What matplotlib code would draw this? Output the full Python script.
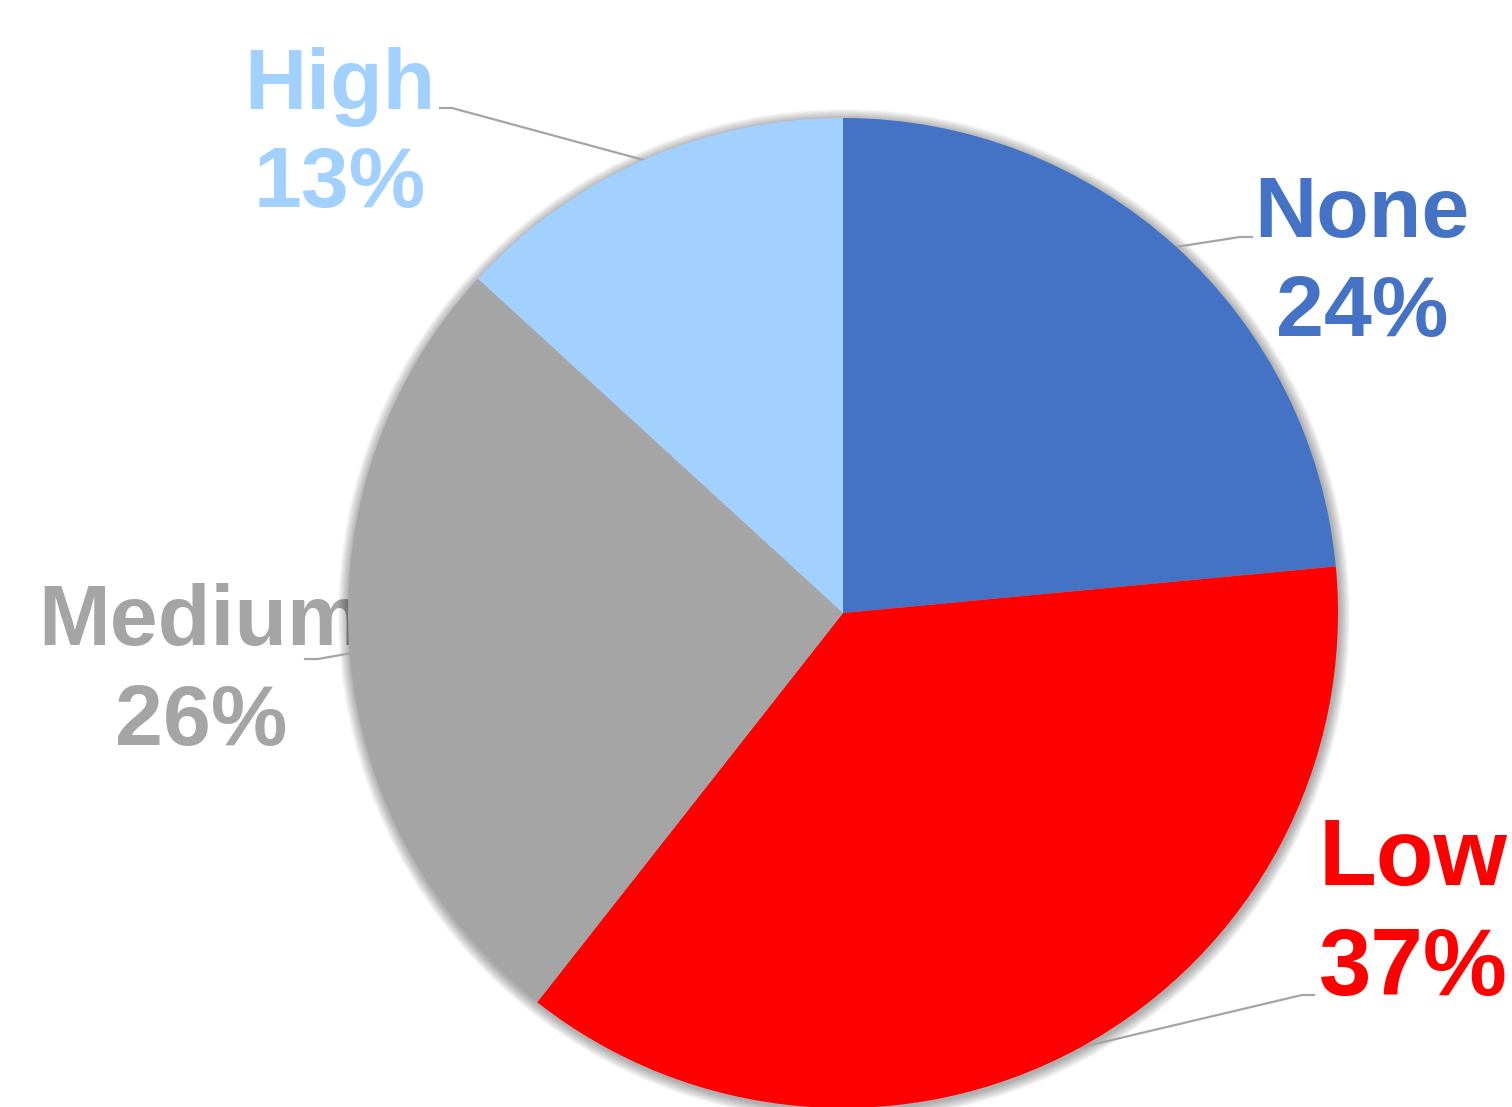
import numpy as np
import matplotlib
matplotlib.use('Agg')
import matplotlib.pyplot as plt
from matplotlib.patches import Circle

labels = ['None', 'Low', 'Medium', 'High']
values = [23.5, 37.1, 26.2, 13.2]
colors = ['#4472C4', '#FF0000', '#A5A5A5', '#A3D1FF']

W, H = 1512, 1107
# label anchor (x centre, baseline of first line) in pixels from top-left, font size, line gap
label_pos = {'None': (1362, 237, 62, 99), 'Low': (1413, 885, 68, 110),
             'Medium': (201, 645, 62, 100), 'High': (340, 109, 62, 98)}
elbow = {'None': ((1240, 237), (1252, 237)), 'Low': ((1302, 995), (1314, 995)),
         'Medium': ((318, 659), (305, 659)), 'High': ((452, 108), (440, 108))}

plt.rcParams['font.family'] = ['Liberation Sans', 'DejaVu Sans']

fig = plt.figure(figsize=(W / 100, H / 100), dpi=100)
ax = fig.add_axes([0, 0, 1, 1])

cx, cy, r = 843, H - 613, 495

# soft shadow around the pie
for k in range(1, 12):
    ax.add_patch(Circle((cx + 1, cy - 2), r + k, color='black', alpha=0.03, lw=0, zorder=0.5))

wedges, _ = ax.pie(values, colors=colors, startangle=90, counterclock=False,
                   center=(cx, cy), radius=r, frame=True,
                   wedgeprops=dict(linewidth=0))
for w in wedges:
    w.set_zorder(2)

tot = sum(values)
for lab, val, col, w in zip(labels, values, colors, wedges):
    mid = np.deg2rad((w.theta1 + w.theta2) / 2)
    sx, sy = cx + r * np.cos(mid), cy + r * np.sin(mid)
    (ex, ey), (hx, hy) = elbow[lab]
    ax.plot([sx, ex, hx], [sy, H - ey, H - hy], color='#A5A5A5', lw=1.6, zorder=1.5)
    tx, ty, fs, gap = label_pos[lab]
    ax.text(tx, H - ty, lab, color=col, fontsize=fs, fontweight='bold',
            ha='center', va='baseline', zorder=0.3)
    ax.text(tx, H - ty - gap, f'{val / tot * 100:.0f}%', color=col, fontsize=fs,
            fontweight='bold', ha='center', va='baseline', zorder=0.3)

ax.set_xlim(0, W)
ax.set_ylim(0, H)
ax.set_aspect('equal')
ax.axis('off')

fig.savefig('out.png', dpi=100, facecolor='white')
